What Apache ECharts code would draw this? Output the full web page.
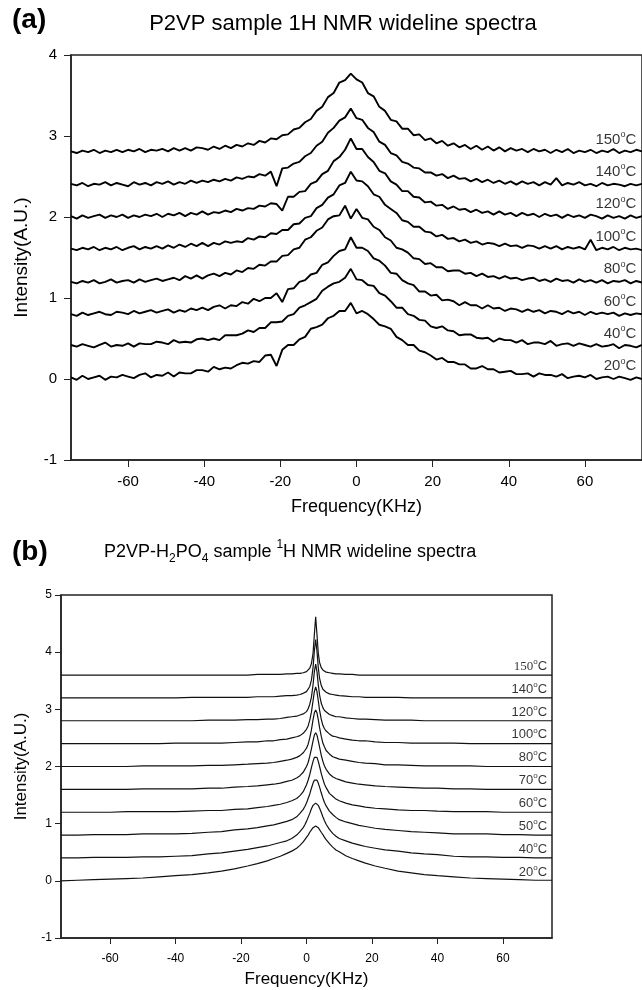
<!DOCTYPE html>
<html><head><meta charset="utf-8">
<script src="https://cdn.jsdelivr.net/npm/echarts@6/dist/echarts.min.js"></script>
<style>html,body{margin:0;padding:0;background:#fff}#c{width:642px;height:990px}</style>
</head><body><div id="c"></div>
<script>
// ---------- panel (a) data ----------
const xa = [-75,-73.5,-72,-70.5,-69,-67.5,-66,-64.5,-63,-61.5,-60,-58.5,-57,-55.5,-54,-52.5,-51,-49.5,-48,-46.5,-45,-43.5,-42,-40.5,-39,-37.5,-36,-34.5,-33,-31.5,-30,-28.5,-27,-25.5,-24,-22.5,-21,-19.5,-18,-16.5,-15,-13.5,-12,-10.5,-9,-7.5,-6,-4.5,-3,-1.5,0,1.5,3,4.5,6,7.5,9,10.5,12,13.5,15,16.5,18,19.5,21,22.5,24,25.5,27,28.5,30,31.5,33,34.5,36,37.5,39,40.5,42,43.5,45,46.5,48,49.5,51,52.5,54,55.5,57,58.5,60,61.5,63,64.5,66,67.5,69,70.5,72,73.5,75];
const a20 = [.02,-.01,.04,0,.02,.04,-.01,.03,.02,.05,.03,.01,.05,.07,.02,.05,.04,.08,.03,.08,.07,.07,.11,.11,.09,.15,.12,.14,.13,.17,.20,.19,.22,.21,.29,.30,.16,.36,.42,.42,.49,.52,.62,.64,.67,.75,.78,.84,.84,.94,.81,.84,.80,.74,.67,.65,.62,.52,.48,.42,.42,.35,.33,.29,.24,.26,.21,.21,.18,.18,.13,.13,.16,.12,.12,.08,.09,.10,.06,.06,.07,.03,.07,.05,.05,.03,.06,.01,.03,.04,.02,.05,0,.02,.03,0,.03,.01,-.01,.02,0];
const a40 = [.42,.40,.43,.41,.39,.42,.45,.40,.42,.41,.44,.40,.44,.43,.43,.46,.45,.43,.48,.45,.46,.45,.49,.50,.48,.50,.48,.54,.54,.54,.56,.60,.58,.63,.63,.70,.70,.71,.78,.80,.88,.91,.95,.99,1.09,1.14,1.18,1.20,1.25,1.36,1.23,1.22,1.16,1.15,1.06,1.03,.96,.88,.88,.80,.78,.73,.72,.65,.63,.65,.60,.59,.54,.55,.55,.51,.50,.51,.46,.50,.48,.48,.45,.48,.43,.45,.45,.43,.47,.41,.43,.44,.41,.44,.42,.40,.43,.40,.41,.43,.38,.42,.41,.39,.42];
const a60 = [.80,.78,.82,.79,.81,.83,.80,.79,.83,.82,.80,.84,.81,.83,.85,.82,.84,.86,.82,.85,.83,.87,.85,.88,.85,.89,.91,.87,.91,.90,.95,.93,.99,.96,1.00,1.00,1.06,.95,1.11,1.12,1.20,1.22,1.29,1.31,1.41,1.44,1.52,1.58,1.60,1.75,1.62,1.62,1.58,1.49,1.46,1.40,1.31,1.30,1.22,1.18,1.16,1.08,1.08,1.03,1.04,.97,.98,.96,.91,.95,.91,.91,.87,.91,.87,.88,.84,.87,.86,.83,.86,.83,.85,.81,.84,.83,.80,.84,.81,.83,.79,.83,.80,.82,.80,.82,.78,.81,.79,.81,.80];
const a80 = [1.20,1.18,1.21,1.19,1.22,1.18,1.20,1.23,1.19,1.21,1.22,1.19,1.23,1.20,1.22,1.24,1.21,1.23,1.25,1.22,1.27,1.24,1.28,1.24,1.28,1.30,1.27,1.31,1.29,1.34,1.32,1.37,1.36,1.41,1.40,1.45,1.45,1.52,1.53,1.60,1.62,1.72,1.75,1.83,1.87,1.97,2.01,2.02,2.14,1.98,2.10,1.99,1.97,1.88,1.84,1.75,1.71,1.62,1.60,1.56,1.49,1.48,1.42,1.43,1.38,1.38,1.33,1.34,1.34,1.30,1.31,1.27,1.30,1.26,1.27,1.24,1.27,1.24,1.25,1.22,1.24,1.25,1.21,1.23,1.20,1.24,1.21,1.22,1.19,1.23,1.20,1.22,1.19,1.22,1.18,1.21,1.20,1.22,1.18,1.21,1.19];
const a100 = [1.61,1.59,1.62,1.60,1.63,1.59,1.62,1.60,1.63,1.59,1.62,1.64,1.60,1.63,1.61,1.64,1.61,1.65,1.62,1.66,1.63,1.67,1.64,1.68,1.64,1.68,1.66,1.70,1.68,1.70,1.69,1.74,1.72,1.76,1.75,1.80,1.79,1.84,1.84,1.91,1.92,1.99,2.01,2.11,2.15,2.24,2.28,2.39,2.42,2.56,2.45,2.44,2.38,2.28,2.25,2.15,2.10,2.05,1.96,1.94,1.88,1.88,1.82,1.81,1.76,1.78,1.73,1.74,1.70,1.72,1.68,1.70,1.66,1.68,1.67,1.64,1.67,1.64,1.65,1.62,1.65,1.64,1.61,1.64,1.61,1.64,1.60,1.63,1.61,1.63,1.60,1.72,1.59,1.62,1.60,1.63,1.59,1.62,1.60,1.61,1.59];
const a120 = [2.01,1.98,2.02,1.99,2.01,2.03,1.99,2.02,2.00,2.03,1.99,2.02,2.00,2.03,2.01,2.04,2.00,2.04,2.02,2.05,2.01,2.05,2.03,2.07,2.03,2.06,2.05,2.08,2.06,2.10,2.08,2.11,2.10,2.14,2.13,2.17,2.16,2.08,2.25,2.25,2.31,2.32,2.41,2.44,2.53,2.57,2.69,2.74,2.83,2.97,2.84,2.84,2.74,2.68,2.57,2.54,2.44,2.40,2.32,2.32,2.25,2.24,2.18,2.19,2.14,2.15,2.10,2.13,2.09,2.10,2.06,2.09,2.05,2.07,2.03,2.07,2.03,2.05,2.01,2.05,2.02,2.04,2.00,2.04,2.01,2.03,1.99,2.03,2.00,2.02,1.99,2.03,2.01,1.98,2.02,1.99,2.01,1.98,2.02,1.99,2.01];
const a140 = [2.41,2.39,2.42,2.38,2.41,2.40,2.43,2.39,2.42,2.40,2.38,2.43,2.40,2.42,2.39,2.43,2.41,2.44,2.40,2.43,2.41,2.45,2.42,2.45,2.43,2.46,2.44,2.47,2.45,2.49,2.47,2.50,2.49,2.53,2.51,2.56,2.38,2.60,2.61,2.66,2.68,2.75,2.79,2.88,2.93,3.04,3.10,3.19,3.23,3.34,3.22,3.20,3.10,3.05,2.93,2.89,2.79,2.76,2.68,2.66,2.61,2.60,2.55,2.55,2.51,2.53,2.48,2.51,2.47,2.48,2.44,2.47,2.43,2.46,2.42,2.45,2.41,2.44,2.40,2.44,2.41,2.43,2.39,2.43,2.40,2.48,2.39,2.42,2.40,2.43,2.39,2.41,2.38,2.42,2.39,2.41,2.40,2.38,2.41,2.39,2.41];
const a150 = [2.81,2.79,2.82,2.80,2.83,2.79,2.82,2.80,2.83,2.80,2.83,2.81,2.84,2.80,2.83,2.82,2.84,2.81,2.85,2.82,2.85,2.82,2.86,2.85,2.83,2.87,2.84,2.88,2.85,2.89,2.87,2.91,2.89,2.94,2.92,2.97,2.96,3.01,3.02,3.08,3.10,3.17,3.21,3.31,3.36,3.48,3.53,3.66,3.69,3.77,3.70,3.66,3.53,3.49,3.36,3.31,3.20,3.18,3.09,3.09,3.01,3.02,2.95,2.97,2.91,2.94,2.88,2.91,2.86,2.89,2.84,2.88,2.83,2.87,2.82,2.86,2.81,2.85,2.82,2.84,2.80,2.84,2.81,2.83,2.79,2.83,2.80,2.84,2.79,2.82,2.80,2.83,2.79,2.82,2.80,2.84,2.79,2.82,2.80,2.83,2.81];
const seriesA = [a20, a40, a60, a80, a100, a120, a140, a150];
const tempsA = ['20','40','60','80','100','120','140','150'];
const basesA = [0, 0.4, 0.8, 1.2, 1.6, 2.0, 2.4, 2.8];

// ---------- panel (b) data ----------
const xb = [-75,-70,-65,-60,-55,-50,-45,-40,-35,-30,-26,-22,-18,-15,-12,-10,-8,-6,-4.5,-3,-2,-1,-0.5,0,0.5,1,1.5,2,2.4,2.8,3.2,3.6,4,4.5,5,5.5,6,7,8,9,10,12,14,16,18,21,24,28,32,36,40,45,50,55,60,65,70,75];
const b20 = [0.00,0.01,0.02,0.03,0.04,0.05,0.07,0.09,0.11,0.14,0.17,0.21,0.26,0.30,0.35,0.39,0.43,0.48,0.52,0.57,0.62,0.68,0.72,0.76,0.80,0.85,0.89,0.93,0.95,0.96,0.95,0.93,0.90,0.85,0.81,0.76,0.72,0.65,0.59,0.54,0.51,0.44,0.39,0.35,0.31,0.26,0.22,0.17,0.14,0.11,0.09,0.07,0.05,0.04,0.03,0.02,0.01,0.01];
const b40 = [.40,.40,.41,.41,.41,.42,.42,.43,.44,.47,.49,.52,.55,.58,.61,.64,.67,.70,.74,.80,.86,.93,.98,1.04,1.11,1.18,1.26,1.32,1.35,1.36,1.35,1.32,1.27,1.20,1.12,1.05,.99,.90,.83,.78,.74,.70,.66,.63,.60,.57,.54,.52,.49,.47,.46,.43,.42,.42,.41,.41,.40,.40];
const b50 = [.80,.80,.81,.81,.81,.82,.82,.82,.83,.85,.86,.89,.91,.93,.96,.98,1.01,1.04,1.07,1.12,1.18,1.25,1.30,1.36,1.44,1.52,1.62,1.71,1.76,1.78,1.76,1.71,1.64,1.54,1.45,1.37,1.31,1.22,1.16,1.11,1.07,1.03,1.00,.97,.95,.92,.90,.88,.86,.85,.84,.82,.82,.82,.81,.81,.80,.80];
const b60 = [1.20,1.20,1.20,1.20,1.21,1.21,1.21,1.21,1.22,1.23,1.23,1.25,1.26,1.28,1.30,1.32,1.34,1.37,1.40,1.44,1.49,1.56,1.62,1.68,1.76,1.86,1.98,2.09,2.16,2.19,2.16,2.09,2.00,1.88,1.78,1.69,1.63,1.53,1.48,1.43,1.40,1.36,1.33,1.31,1.29,1.27,1.26,1.24,1.23,1.23,1.22,1.21,1.21,1.21,1.20,1.20,1.20,1.20];
const b70 = [1.60,1.60,1.60,1.60,1.60,1.61,1.61,1.61,1.61,1.62,1.62,1.64,1.65,1.66,1.68,1.69,1.71,1.74,1.76,1.80,1.84,1.90,1.95,2.00,2.07,2.18,2.31,2.45,2.55,2.59,2.55,2.45,2.34,2.20,2.09,2.01,1.95,1.87,1.82,1.79,1.77,1.73,1.71,1.69,1.68,1.66,1.65,1.64,1.63,1.62,1.62,1.61,1.61,1.60,1.60,1.60,1.60,1.60];
const b80 = [2.00,2.00,2.00,2.00,2.00,2.01,2.01,2.01,2.01,2.02,2.02,2.03,2.04,2.05,2.06,2.07,2.09,2.11,2.13,2.16,2.19,2.24,2.28,2.32,2.39,2.50,2.64,2.82,2.94,2.99,2.94,2.82,2.68,2.53,2.41,2.34,2.28,2.22,2.17,2.15,2.13,2.11,2.09,2.07,2.06,2.05,2.03,2.03,2.02,2.01,2.01,2.01,2.01,2.00,2.00,2.00,2.00,2.00];
const b100 = [2.40,2.40,2.40,2.40,2.40,2.40,2.40,2.41,2.41,2.41,2.41,2.42,2.43,2.43,2.45,2.45,2.47,2.48,2.50,2.52,2.54,2.58,2.61,2.65,2.71,2.81,2.95,3.15,3.31,3.39,3.31,3.15,2.98,2.83,2.72,2.66,2.62,2.57,2.53,2.52,2.50,2.48,2.46,2.45,2.45,2.43,2.42,2.42,2.41,2.41,2.41,2.41,2.40,2.40,2.40,2.40,2.40,2.40];
const b120 = [2.80,2.80,2.80,2.80,2.80,2.80,2.80,2.80,2.80,2.81,2.81,2.81,2.82,2.82,2.83,2.83,2.84,2.86,2.87,2.88,2.90,2.92,2.94,2.96,3.01,3.09,3.21,3.43,3.66,3.79,3.66,3.43,3.25,3.11,3.03,2.98,2.95,2.91,2.89,2.87,2.87,2.85,2.84,2.83,2.83,2.82,2.81,2.81,2.81,2.80,2.80,2.80,2.80,2.80,2.80,2.80,2.80,2.80];
const b140 = [3.20,3.20,3.20,3.20,3.20,3.20,3.20,3.20,3.21,3.21,3.21,3.21,3.21,3.22,3.22,3.22,3.23,3.24,3.24,3.25,3.26,3.28,3.29,3.31,3.33,3.40,3.51,3.73,4.02,4.22,4.02,3.73,3.54,3.42,3.35,3.32,3.30,3.27,3.26,3.25,3.24,3.23,3.22,3.22,3.21,3.21,3.21,3.21,3.20,3.20,3.20,3.20,3.20,3.20,3.20,3.20,3.20,3.20];
const b150 = [3.60,3.60,3.60,3.60,3.60,3.60,3.60,3.60,3.60,3.60,3.60,3.60,3.60,3.61,3.61,3.61,3.61,3.62,3.62,3.63,3.63,3.64,3.65,3.66,3.68,3.72,3.80,3.98,4.31,4.62,4.31,3.98,3.82,3.73,3.69,3.67,3.65,3.64,3.63,3.62,3.62,3.61,3.61,3.60,3.60,3.60,3.60,3.60,3.60,3.60,3.60,3.60,3.60,3.60,3.60,3.60,3.60,3.60];
const seriesB = [b20, b40, b50, b60, b70, b80, b100, b120, b140, b150];
const tempsB = ['20','40','50','60','70','80','100','120','140','150'];
const basesB = [0, 0.4, 0.8, 1.2, 1.6, 2.0, 2.4, 2.8, 3.2, 3.6];

const ticksX = [-60,-40,-20,0,20,40,60];

// ---------- chart ----------
const FONT = '"Liberation Sans", Arial, sans-serif';
const chart = echarts.init(document.getElementById('c'), null, {renderer: 'canvas'});

function axisX(grid, fs, nfs, gap, margin, tlen) {
  return {
    type: 'value', gridIndex: grid, min: -75, max: 75,
    name: 'Frequency(KHz)', nameLocation: 'middle', nameGap: gap,
    nameTextStyle: {fontFamily: FONT, fontSize: nfs, color: '#000'},
    axisLine: {show: true, onZero: false, lineStyle: {color: '#222', width: 1.5}},
    axisTick: {show: true, inside: false, length: tlen, customValues: ticksX, lineStyle: {color: '#222', width: 1}},
    axisLabel: {fontFamily: FONT, fontSize: fs, color: '#000', margin: margin, customValues: ticksX},
    splitLine: {show: false}
  };
}
function axisY(grid, fs, nfs, max, gap, margin, tlen) {
  return {
    type: 'value', gridIndex: grid, min: -1, max: max, interval: 1,
    name: 'Intensity(A.U.)', nameLocation: 'middle', nameGap: gap, nameRotate: 90,
    nameTextStyle: {fontFamily: FONT, fontSize: nfs, color: '#000'},
    axisLine: {show: true, onZero: false, lineStyle: {color: '#222', width: 1.5}},
    axisTick: {show: true, inside: false, length: tlen, lineStyle: {color: '#222', width: 1}},
    axisLabel: {fontFamily: FONT, fontSize: fs, color: '#000', margin: margin},
    splitLine: {show: false}
  };
}

const series = [];
seriesA.forEach((arr) => {
  series.push({type: 'line', xAxisIndex: 0, yAxisIndex: 0, showSymbol: false, symbol: 'none',
    data: xa.map((x, i) => [x, arr[i]]), lineStyle: {color: '#000', width: 1.9}, z: 3});
});
seriesB.forEach((arr) => {
  series.push({type: 'line', xAxisIndex: 1, yAxisIndex: 1, showSymbol: false, symbol: 'none',
    data: xb.map((x, i) => [x, arr[i]]), lineStyle: {color: '#111', width: 1.2}, z: 3});
});

function tempRich(fs) {
  return {
    n: {fontFamily: FONT, fontSize: fs, color: '#000', lineHeight: fs + 2, verticalAlign: 'bottom'},
    ns: {fontFamily: '"Liberation Serif", "Times New Roman", serif', fontSize: fs, color: '#000', lineHeight: fs + 2, verticalAlign: 'bottom'},
    s: {fontFamily: FONT, fontSize: Math.round(fs * 0.62), color: '#000', lineHeight: Math.round(fs * 0.62), verticalAlign: 'top'}
  };
}
series.push({
  type: 'scatter', xAxisIndex: 0, yAxisIndex: 0, symbolSize: 0, z: 5, silent: true,
  data: tempsA.map((t, i) => [73.5, basesA[i] + 0.17]),
  label: {show: true, position: 'left', distance: 0,
    formatter: (p) => '{n|' + tempsA[p.dataIndex] + '}{s|o}{n|C}', rich: tempRich(15)}
});
series.push({
  type: 'scatter', xAxisIndex: 1, yAxisIndex: 1, symbolSize: 0, z: 5, silent: true,
  data: tempsB.map((t, i) => [73.5, basesB[i] + 0.17]),
  label: {show: true, position: 'left', distance: 0,
    formatter: (p) => '{' + (tempsB[p.dataIndex] === '150' ? 'ns' : 'n') + '|' + tempsB[p.dataIndex] + '}{s|o}{n|C}',
    rich: tempRich(13)}
});

chart.setOption({
  animation: false,
  backgroundColor: '#fff',
  grid: [
    {left: 71, top: 55, width: 578, height: 405, show: true, borderColor: '#222', borderWidth: 1.5, backgroundColor: 'transparent'},
    {left: 61, top: 595, width: 491, height: 343, show: true, borderColor: '#222', borderWidth: 1.5, backgroundColor: 'transparent'}
  ],
  xAxis: [axisX(0, 15, 18, 38, 14, 7), axisX(1, 12, 17, 33, 15, 6)],
  yAxis: [axisY(0, 15, 19, 4, 40, 14, 7), axisY(1, 12, 17, 5, 31, 9, 6)],
  series: series,
  graphic: [
    {type: 'text', left: 12, top: 6, style: {text: '(a)', font: 'bold 28px ' + FONT, fill: '#000'}},
    {type: 'text', x: 343, y: 24, style: {text: 'P2VP sample 1H NMR wideline spectra', font: '22px ' + FONT, fill: '#000', align: 'center', verticalAlign: 'middle'}},
    {type: 'text', left: 12, top: 538, style: {text: '(b)', font: 'bold 28px ' + FONT, fill: '#000'}},
    {type: 'text', x: 104, y: 552, style: {
      text: '{t|P2VP-H}{sub|2}{t|PO}{sub|4}{t| sample }{sup|1}{t|H NMR wideline spectra}',
      verticalAlign: 'middle',
      rich: {
        t: {fontFamily: FONT, fontSize: 18, fill: '#000', lineHeight: 26, verticalAlign: 'middle'},
        sub: {fontFamily: FONT, fontSize: 12, fill: '#000', lineHeight: 12, verticalAlign: 'bottom'},
        sup: {fontFamily: FONT, fontSize: 12, fill: '#000', lineHeight: 12, verticalAlign: 'top'}
      }
    }}
  ]
});
</script></body></html>
